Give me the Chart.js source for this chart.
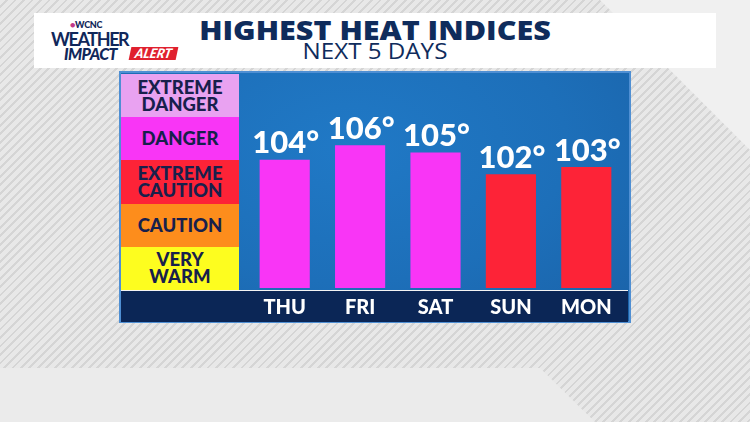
<!DOCTYPE html>
<html lang="en">
<head>
<meta charset="UTF-8">
<title>Highest Heat Indices</title>
<script src="https://cdn.jsdelivr.net/npm/chart.js"></script>
<style>
  body{margin:0;width:750px;height:422px;overflow:hidden;position:relative;
    background:#e8e8e8;font-family:Lato,"Open Sans",sans-serif;}
  .hatch{position:absolute;left:0;top:0;width:750px;height:422px;
    background:repeating-linear-gradient(135deg,#e8e8e8 0 4px,#d5d5d5 4px 6px);}
  .flat{position:absolute;left:0;top:0;width:750px;height:422px;background:#ebebeb;}
  .flat.bottom{clip-path:polygon(0 368px,540px 368px,595px 422px,0 422px);}
  .flat.topright{background:#f0f0f0;clip-path:polygon(600px 0,750px 0,750px 150px);}
  .header{position:absolute;left:34px;top:13px;width:682px;height:55px;background:#fff;}
  .title{position:absolute;left:0;width:750px;text-align:center;color:#0f2c5c;
    font-family:"Open Sans",sans-serif;transform-origin:375px 50%;}
  .t1{top:11px;font-size:27px;font-weight:800;transform:scaleX(1.13);}
  .t2{top:37px;font-size:21px;font-weight:400;transform:scaleX(1.15);}
  .logo{position:absolute;color:#10275a;font-weight:900;}
  .panel{position:absolute;left:119px;top:71px;width:508px;height:248px;
    border:2px solid #4f8fd3;
    background:radial-gradient(ellipse at 45% 30%,#2079c6 0%,#1d6fb9 55%,#1a62a8 100%);}
  .legend{position:absolute;left:121px;top:74px;width:118px;}
  .band{height:43.2px;display:flex;align-items:center;justify-content:center;
    text-align:center;color:#17204c;font-weight:900;font-size:18.5px;line-height:17px;
    white-space:pre-line;}
  .strip{position:absolute;left:121px;top:290px;width:507px;height:32px;
    background:#0b2656;border-top:1.5px solid #f4f4f4;box-sizing:border-box;}
  #chart{position:absolute;left:239px;top:73px;}
</style>
</head>
<body>
<div class="hatch"></div>
<div class="flat bottom"></div>
<div class="flat topright"></div>
<div class="header"></div>
<div class="title t1">HIGHEST HEAT INDICES</div>
<div class="title t2">NEXT 5 DAYS</div>

<div class="logo" style="left:70px;top:19px;font-size:9px;letter-spacing:-0.3px;"><span style="color:#c23a8a">&#9679;</span>WCNC</div>
<div class="logo" style="left:51px;top:28px;font-size:18px;letter-spacing:-1.4px;font-weight:700;">WEATHER</div>
<div class="logo" style="left:64px;top:44px;font-size:16px;font-style:italic;letter-spacing:-0.6px;">IMPACT</div>
<div class="logo" style="left:130px;top:47px;width:47px;height:13px;background:#e0202e;color:#fff;font-size:13px;line-height:13px;font-style:italic;text-align:center;transform:skewX(-12deg);">ALERT</div>

<div class="panel"></div>
<div class="legend" id="legend"></div>
<div class="strip"></div>
<canvas id="chart" width="389" height="249"></canvas>

<script>
  // heat index categories shown in the side column, top to bottom
  const bands = ['EXTREME\nDANGER', 'DANGER', 'EXTREME\nCAUTION', 'CAUTION', 'VERY\nWARM']
  const days = ['THU', 'FRI', 'SAT', 'SUN', 'MON']
  const heatIndex = [104, 106, 105, 102, 103]

  const bandColors = ['#e9a2f1', '#f935f6', '#fd2337', '#fd8d1c', '#fdfd1f']
  const legend = document.getElementById('legend')
  bands.forEach((b, i) => {
    const d = document.createElement('div')
    d.className = 'band'
    d.style.background = bandColors[i]
    d.textContent = b
    legend.appendChild(d)
  })

  const barColor = v => v >= 104 ? '#f935f6' : '#fd2337'

  const valueLabels = {
    id: 'valueLabels',
    afterDatasetsDraw(chart) {
      const c = chart.ctx
      const meta = chart.getDatasetMeta(0)
      c.save()
      c.fillStyle = '#fff'
      c.font = '900 31px Lato'
      c.textAlign = 'center'
      c.textBaseline = 'bottom'
      meta.data.forEach((bar, i) => {
        c.fillText(heatIndex[i] + '°', bar.x + 1, bar.y - 1)
      })
      c.restore()
    }
  }

  new Chart(document.getElementById('chart'), {
    type: 'bar',
    data: {
      labels: days,
      datasets: [{
        data: heatIndex,
        backgroundColor: heatIndex.map(barColor),
        barPercentage: 0.665,
        categoryPercentage: 1
      }]
    },
    options: {
      responsive: false,
      animation: false,
      layout: { padding: { left: 8, right: 4, top: 0, bottom: 0 } },
      plugins: { legend: { display: false }, tooltip: { enabled: false } },
      scales: {
        x: {
          grid: { display: false, drawTicks: false },
          border: { display: false },
          ticks: { color: '#fff', font: { family: 'Lato', size: 20, weight: '900' }, padding: 8 },
          afterFit(scale) { scale.height = 34 }
        },
        y: { display: false, min: 86.4, max: 115.9 }
      }
    },
    plugins: [valueLabels]
  })
</script>
</body>
</html>
